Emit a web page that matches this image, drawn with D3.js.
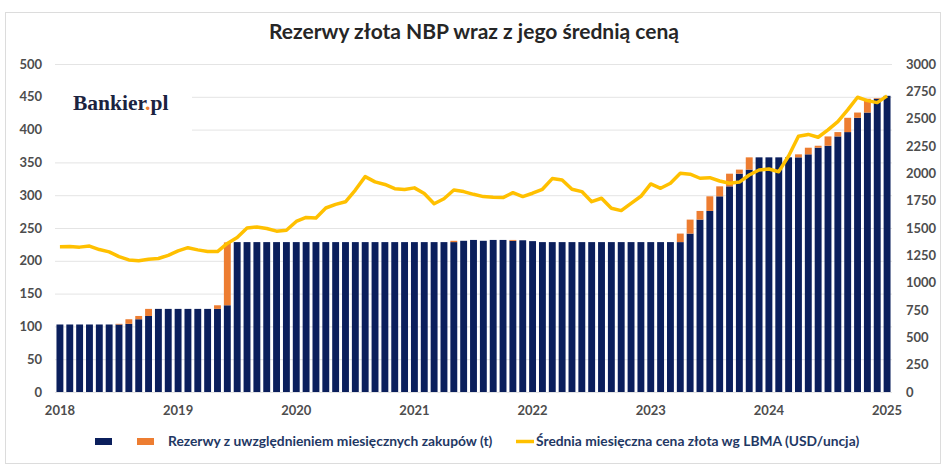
<!DOCTYPE html>
<html>
<head>
<meta charset="utf-8">
<script src="https://cdn.jsdelivr.net/npm/d3@7"></script>
<style>
  body { margin: 0; background: #fff; }
  svg text { font-family: Lato, "Open Sans", sans-serif; }
</style>
</head>
<body>
<div id="chart"></div>
<script>
/**
 * CONSTANTS
 * */
const width = 948,
  height = 469,
  margin = { top: 64, right: 57, bottom: 77, left: 55 };

const colors = { base: "#0b1f5c", purchase: "#ed7d31", price: "#ffc000", grid: "#e4e4e4", tick: "#4d4d4d", legend: "#1f3864" };

/**
 * DATA
 * */
const yearLabels = ["2018", "2019", "2020", "2021", "2022", "2023", "2024", "2025"];
const leftTicks = [0, 50, 100, 150, 200, 250, 300, 350, 400, 450, 500];
const rightTicks = [0, 250, 500, 750, 1000, 1250, 1500, 1750, 2000, 2250, 2500, 2750, 3000];

// reserves before the month's purchase (t), Jan 2018 .. Jan 2025
const reservesBase = [
  102.9, 102.9, 102.9, 102.9, 102.9, 102.9, 102.9, 103.9, 110.9, 115.9, 126.7, 126.7,
  126.7, 126.7, 126.7, 126.7, 126.7, 132.2, 228.5, 228.5, 228.5, 228.5, 228.5, 228.5,
  228.5, 228.5, 228.5, 228.5, 228.5, 228.5, 228.5, 228.5, 228.5, 228.5, 228.5, 228.5,
  228.5, 228.5, 228.5, 228.5, 228.5, 230.5, 231.8, 230.5, 231.8, 231.8, 230.5, 231.3,
  230.0, 228.5, 228.5, 228.5, 228.5, 228.5, 228.5, 228.5, 228.5, 228.5, 228.5, 228.5,
  228.5, 228.5, 228.5, 228.5, 241.5, 262.8, 276.0, 298.3, 313.5, 332.8, 339.0, 357.7,
  357.7, 357.7, 357.7, 357.7, 362.3, 372.4, 375.4, 389.6, 396.2, 418.0, 426.0, 447.0,
  451.5
];

// monthly purchase stacked on top (t)
const monthlyPurchase = [
  0, 0, 0, 0, 0, 0, 1.0, 7.0, 5.0, 10.8, 0, 0,
  0, 0, 0, 0, 5.5, 95.8, 0, 0, 0, 0, 0, 0,
  0, 0, 0, 0, 0, 0, 0, 0, 0, 0, 0, 0,
  0, 0, 0, 0, 2.0, 0, 0, 0, 0, 0, 1.3, 0,
  0, 0, 0, 0, 0, 0, 0, 0, 0, 0, 0, 0,
  0, 0, 0, 13.0, 21.3, 13.2, 22.3, 15.2, 19.3, 6.2, 18.7, 0,
  0, 0, 0, 4.6, 10.1, 3.0, 14.2, 6.6, 21.8, 8.0, 21.0, 1.0,
  0
];

// average monthly LBMA gold price (USD/oz)
const goldPrice = [
  1329, 1330, 1325, 1335, 1303, 1282, 1238, 1208, 1200, 1215, 1221, 1250,
  1291, 1320, 1300, 1285, 1284, 1359, 1413, 1500, 1510, 1495, 1471, 1480,
  1560, 1597, 1592, 1683, 1716, 1740, 1847, 1970, 1922, 1898, 1860, 1852,
  1867, 1815, 1722, 1768, 1848, 1833, 1808, 1787, 1781, 1778, 1823, 1787,
  1818, 1854, 1952, 1940, 1854, 1833, 1741, 1772, 1680, 1659, 1726, 1790,
  1903, 1863, 1909, 2001, 1992, 1955, 1960, 1930, 1909, 1920, 1985, 2031,
  2040, 2015, 2159, 2340, 2356, 2330, 2397, 2473, 2580, 2696, 2665, 2647,
  2708
];

const months = d3.range(reservesBase.length);

/**
 * SCALES
 * */
const xScale = d3.scaleBand()
  .domain(months)
  .range([margin.left, width - margin.right + 1])
  .paddingInner(0.3)
  .paddingOuter(0.15);

const yLeft = d3.scaleLinear().domain([0, 500]).range([height - margin.bottom, margin.top]);
const yRight = d3.scaleLinear().domain([0, 3000]).range([height - margin.bottom, margin.top]);

const svg = d3.select("#chart")
  .append("svg")
  .attr("width", width)
  .attr("height", height);

svg.append("rect")
  .attr("width", width).attr("height", height)
  .attr("fill", "#fff");

// light frame round the chart
svg.append("rect")
  .attr("x", 5.5).attr("y", 12.5)
  .attr("width", 935).attr("height", 451)
  .attr("fill", "none")
  .attr("stroke", "#dcdcdc");

// TITLE
svg.append("text")
  .attr("x", width / 2)
  .attr("y", 39)
  .attr("text-anchor", "middle")
  .attr("font-size", 21)
  .attr("font-weight", 700)
  .attr("fill", "#262626")
  .text("Rezerwy złota NBP wraz z jego średnią ceną");

// AXES
const leftAxis = svg.append("g")
  .attr("transform", `translate(${margin.left},0)`)
  .call(d3.axisLeft(yLeft)
    .tickValues(leftTicks)
    .tickSize(-(width - margin.right + 1 - margin.left))
    .tickPadding(13));
leftAxis.select(".domain").remove();
leftAxis.selectAll(".tick line").attr("stroke", colors.grid);

const rightAxis = svg.append("g")
  .attr("transform", `translate(${width - margin.right + 1},0)`)
  .call(d3.axisRight(yRight)
    .tickValues(rightTicks)
    .tickFormat(d3.format("d"))
    .tickSize(0)
    .tickPadding(14));
rightAxis.select(".domain").remove();

const bottomAxis = svg.append("g")
  .attr("transform", `translate(0,${height - margin.bottom})`)
  .call(d3.axisBottom(xScale)
    .tickValues(months.filter(i => i % 12 === 0))
    .tickFormat(i => yearLabels[i / 12])
    .tickSize(0)
    .tickPadding(14));
bottomAxis.select(".domain").remove();

svg.selectAll(".tick text")
  .attr("font-family", "Lato, 'Open Sans', sans-serif")
  .attr("font-size", 13)
  .attr("font-weight", 700)
  .attr("fill", colors.tick);

// LOGO (white box hides the grid behind it)
svg.append("rect")
  .attr("x", margin.left).attr("y", 84)
  .attr("width", 137).attr("height", 58)
  .attr("fill", "#fff");

const logo = svg.append("text")
  .attr("x", 73)
  .attr("y", 110)
  .attr("font-size", 21.5)
  .attr("font-weight", 700)
  .attr("fill", "#1b2340")
  .style("font-family", "'Liberation Serif', 'DejaVu Serif', serif");
logo.append("tspan").text("Bankier");
logo.append("tspan").attr("fill", colors.purchase).text(".");
logo.append("tspan").text("pl");

// BARS
svg.append("g")
  .selectAll("rect")
  .data(months)
  .join("rect")
  .attr("x", i => xScale(i))
  .attr("width", xScale.bandwidth())
  .attr("y", i => yLeft(reservesBase[i]))
  .attr("height", i => yLeft(0) - yLeft(reservesBase[i]))
  .attr("fill", colors.base);

svg.append("g")
  .selectAll("rect")
  .data(months.filter(i => monthlyPurchase[i] > 0))
  .join("rect")
  .attr("x", i => xScale(i))
  .attr("width", xScale.bandwidth())
  .attr("y", i => yLeft(reservesBase[i] + monthlyPurchase[i]))
  .attr("height", i => yLeft(reservesBase[i]) - yLeft(reservesBase[i] + monthlyPurchase[i]))
  .attr("fill", colors.purchase);

// PRICE LINE
const line = d3.line()
  .x(i => xScale(i) + xScale.bandwidth() / 2)
  .y(i => yRight(goldPrice[i]));

svg.append("path")
  .datum(months)
  .attr("d", line)
  .attr("fill", "none")
  .attr("stroke", colors.price)
  .attr("stroke-width", 3.5)
  .attr("stroke-linejoin", "round");

// LEGEND
const legend = svg.append("g")
  .attr("font-size", 13.8)
  .attr("font-weight", 700)
  .attr("fill", colors.legend);

legend.append("rect").attr("x", 95).attr("y", 438).attr("width", 17).attr("height", 7).attr("fill", colors.base);
legend.append("rect").attr("x", 137).attr("y", 438).attr("width", 17).attr("height", 7).attr("fill", colors.purchase);
legend.append("text").attr("x", 168).attr("y", 446).text("Rezerwy z uwzględnieniem miesięcznych zakupów (t)");

legend.append("line")
  .attr("x1", 516).attr("x2", 534)
  .attr("y1", 441.5).attr("y2", 441.5)
  .attr("stroke", colors.price)
  .attr("stroke-width", 3.5);
legend.append("text").attr("x", 536).attr("y", 446).text("Średnia miesięczna cena złota wg LBMA (USD/uncja)");
</script>
</body>
</html>
